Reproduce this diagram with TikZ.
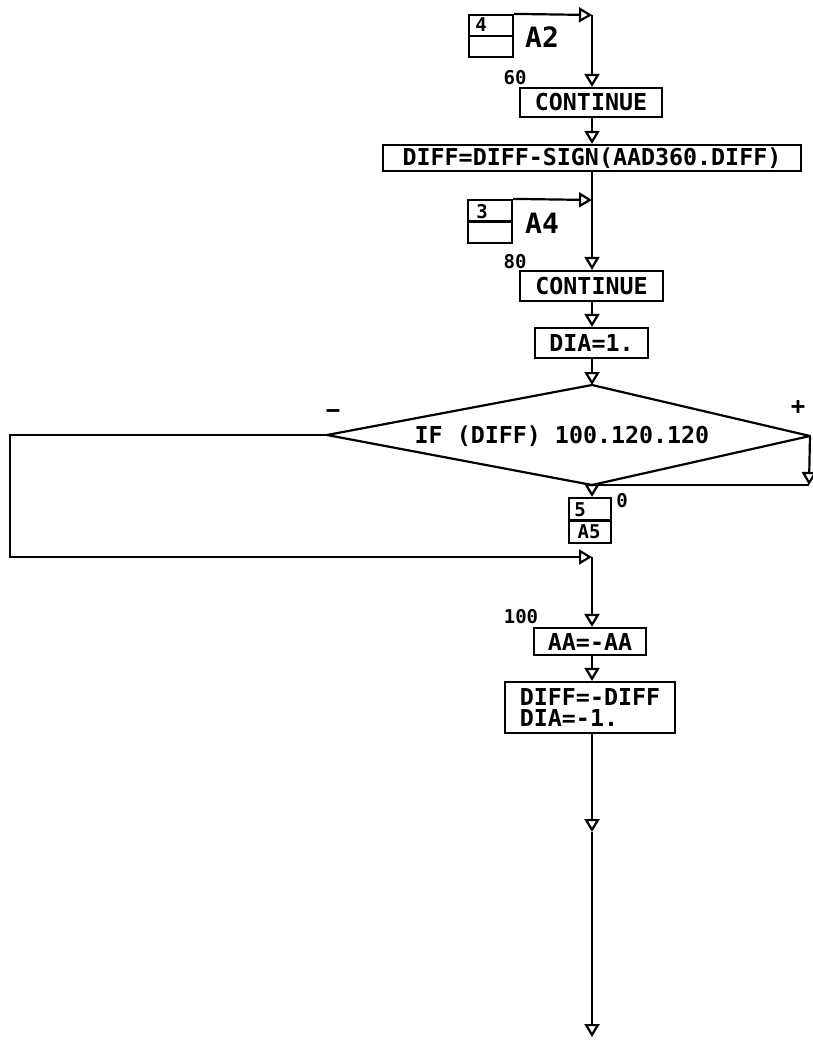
\documentclass[tikz,border=0pt]{standalone}
\usepackage{fontspec}
\setmonofont{DejaVu Sans Mono}
\usetikzlibrary{arrows.meta}
\newcommand\myfs[1]{\fontsize{#1}{#1}\selectfont\ttfamily\bfseries}
\tikzset{
  ln/.style={line width=2.2pt},
  fl/.style={ln,-{Triangle[open,length=13pt,width=15pt]}},
  stmt/.style={draw,ln,rectangle,inner sep=0pt,font=\myfs{23.3}},
  conbox/.style={draw,ln,rectangle,inner sep=0pt},
  lbl/.style={inner sep=0pt,font=\myfs{19}},
  big/.style={inner sep=0pt,font=\myfs{28}}
}
\begin{document}
\begin{tikzpicture}[x=1pt,y=-1pt]
\useasboundingbox (0,0) rectangle (812,1041);
% connector A2
\node[conbox,minimum width=44pt,minimum height=42pt] (c1) at (491,36) {};
\draw[ln] (c1.west) -- (c1.east);
\node[lbl] (c1n) at (481,25) {4};
\node[big] (c1l) at (542,37) {A2};
\coordinate (j1) at (592,15);
\draw[fl] (c1.north east) -- (j1);
\node[lbl] (l60) at (515,78) {60};
\node[stmt,minimum width=142pt,minimum height=29pt] (s1) at (591,102.5) {CONTINUE};
\draw[fl] (j1) -- (s1.north -| j1);
\node[stmt,minimum width=418pt,minimum height=26pt] (s2) at (592,158) {DIFF=DIFF-SIGN(AAD360.DIFF)};
\draw[fl] (s1.south -| j1) -- (s2.north -| j1);
% connector A4
\node[conbox,minimum width=44pt,minimum height=43pt] (c2) at (490,221.5) {};
\draw[ln] (c2.west) -- (c2.east);
\node[lbl] (c2n) at (482,212) {3};
\node[big] (c2l) at (542,223) {A4};
\coordinate (j2) at (592,200);
\draw[fl] (c2.north east) -- (j2);
\draw[ln] (s2.south -| j2) -- (j2);
\node[lbl] (l80) at (515,262) {80};
\node[stmt,minimum width=143pt,minimum height=30pt] (s3) at (591.5,286) {CONTINUE};
\draw[fl] (j2) -- (s3.north -| j2);
\node[stmt,minimum width=113pt,minimum height=30pt] (s4) at (591.5,343) {DIA=1.};
\draw[fl] (s3.south -| j2) -- (s4.north -| j2);
% decision
\coordinate (dt) at (592,385);
\coordinate (dl) at (327,435);
\coordinate (dr) at (810,436);
\coordinate (db) at (592,485);
\draw[ln,line join=round] (dt) -- (dr) -- (db) -- (dl) -- cycle;
\node[inner sep=0pt,font=\myfs{23.3}] (dtx) at (562,436) {IF (DIFF) 100.120.120};
\draw[fl] (s4.south -| dt) -- (dt);
\node[inner sep=0pt,font=\myfs{24}] (mi) at (333,414) {−};
\node[inner sep=0pt,font=\myfs{24}] (pl) at (798,408) {+};
% right branch
\coordinate (rc) at (809,485);
\draw[fl] (dr) -- (rc);
\draw[ln] (rc) -- (db);
\node[conbox,minimum width=42pt,minimum height=45pt] (c3) at (590,520.5) {};
\draw[ln] (c3.west) -- (c3.east);
\node[lbl] (c3n) at (580,510) {5};
\node[lbl] (c3l) at (589,532) {A5};
\node[lbl] (l0) at (622,501) {0};
\draw[fl] (db) -- (c3.north -| db);
% left branch
\coordinate (lc1) at (10,435);
\coordinate (lc2) at (10,557);
\coordinate (j3) at (592,557);
\draw[fl] (dl) -- (lc1) -- (lc2) -- (j3);
\node[lbl] (l100) at (521,617) {100};
\node[stmt,minimum width=112pt,minimum height=27pt] (s5) at (590,641.5) {AA=-AA};
\draw[fl] (j3) -- (s5.north -| j3);
\node[stmt,minimum width=170pt,minimum height=51pt,align=left] (s6) at (590,707.5) {DIFF=-DIFF\\[-2pt]DIA=-1.};
\draw[fl] (s5.south -| j3) -- (s6.north -| j3);
\coordinate (j4) at (592,832);
\coordinate (j5) at (592,1037);
\draw[fl] (s6.south -| j3) -- (j4);
\draw[fl] (j4) -- (j5);
\end{tikzpicture}
\end{document}
